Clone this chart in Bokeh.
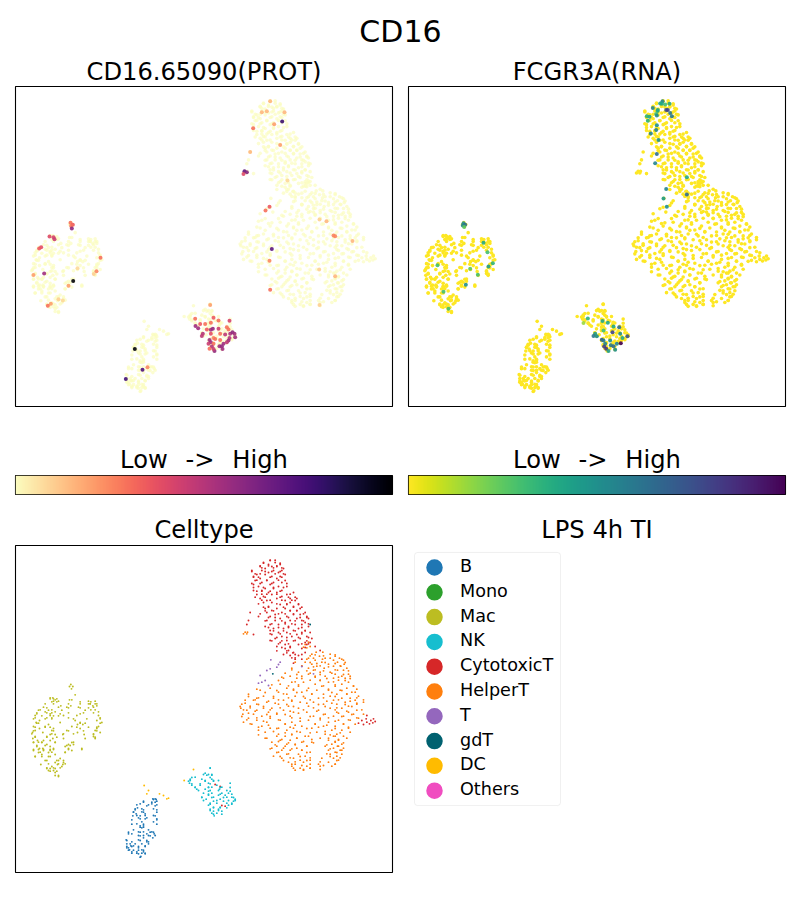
from bokeh.embed import file_html
from bokeh.resources import INLINE
from bokeh.plotting import figure
from bokeh.layouts import column, row
from bokeh.models import ColumnDataSource, LinearColorMapper, Range1d, BoxAnnotation
from bokeh.palettes import Magma256, Viridis256
from bokeh.core.properties import value
from bokeh.transform import transform
import numpy as np

FONT = "DejaVu Sans"
suptitle = "CD16"
titles = ["CD16.65090(PROT)", "FCGR3A(RNA)", "Celltype", "LPS 4h TI"]
bar_title = "Low\u00a0\u00a0\u200a->\u00a0\u00a0\u200aHigh"

celltypes = ["B", "Mono", "Mac", "NK", "CytotoxicT", "HelperT", "T", "gdT", "DC", "Others"]
colors = ["#1f77b4", "#2ca02c", "#bcbd22", "#17becf", "#d62728", "#ff7f0e", "#9467bd", "#006170", "#ffbb00", "#f04dc0"]

# embedding positions, rows of {umap2: [umap1, ...]} (arbitrary embedding units)
helper_rows = {
 335:[948,968],341:[935,990],347:[958,1005],353:[925,975,1018],359:[945,1000,1030],365:[885,915,965,1012],
 371:[935,985,1032],377:[905,950,1000,1022],383:[875,925,972,1040],389:[940,1012,1030],395:[895,960,990],
 401:[925,1005,1045],407:[870,905,945,975,1025,1050],413:[850,890,1000,1035],419:[930,960,1015],
 425:[875,910,985,1045],431:[840,945,1025],437:[895,965,1005,1060],443:[810,860,925,1040],
 449:[780,880,950,985,1020],455:[835,905,1055,1065],461:[745,860,935,970,1010,1040],467:[790,885,990,1075],
 473:[770,820,915,955,1025,1050],479:[735,760,850,875,1000,1065],485:[800,900,940,1035,1090],
 491:[725,770,835,970,1010,1070],497:[750,865,925,1045],503:[722,790,815,895,990,1025],509:[740,770,850,955,1070],
 515:[805,880,920,1010,1045],521:[728,760,830,975,1060,1090],527:[785,870,940,1000,1030],533:[745,810,900,960,1075],
 539:[770,840,925,1015,1050],545:[730,800,875,985],551:[755,855,945,1030,1065],557:[785,905,970,1005],
 563:[810,835,880,935,1045],569:[775,860,995,1025],575:[795,900,950,1050],581:[835,875,975,1010],
 587:[855,925,1000,1030],593:[800,890,960,1040],599:[840,870,985,1015],605:[815,905,935,1005],
 611:[860,885,995,1025],617:[830,920,975,1012],623:[815,850,890,1000,1030],629:[870,905,985,1020],
 635:[835,930,1005],641:[860,895,990,1025],647:[820,915,1010],653:[845,880,965,1000],659:[900,930,1015],
 665:[865,910,985],671:[885,955,1005],677:[875,920,960,995],683:[900,930],689:[885,910],
 275:[735,742],280:[730,740],305:[925],312:[915],318:[930],320:[910],322:[920],
}
helper_rows_b = {
 343:[945,1005],346:[930,970],353:[940,990],356:[920,967,1025],366:[930,975,1035],369:[950,1005],
 376:[905,960,1020],379:[940,985],388:[875,945,1005],391:[920,970,1045],398:[855,930,995],402:[890,960,1030],
 410:[845,945,1015],414:[905,980,1050],420:[835,960,1035],424:[885,1000],433:[815,895,1005],436:[865,970,1060],
 446:[770,880,985,1070],450:[830,920,1025],456:[795,890,995],460:[850,935,1040],468:[745,820,910,1005],
 472:[775,865,970,1070],478:[765,835,930,1015,1090],482:[805,875,980,1050],488:[735,825,920,995,1070],
 492:[775,860,955,1035],498:[720,790,880,975,1055],502:[750,840,940,1010],508:[730,810,910,1005,1085],
 512:[765,870,950,1040],518:[745,830,895,1015],522:[800,855,970,1055],528:[725,810,930,1025],532:[770,875,985,1070],
 538:[740,835,960,1045],542:[790,900,1005],550:[750,855,945,1030],554:[805,885,980],560:[775,870,955,1045],
 564:[830,920,1005],573:[820,890,975],577:[855,930,1020],583:[775,875,990],587:[830,915,1005],593:[795,890,985],
 597:[845,935,1015],603:[835,910,1005],607:[865,940,1030],613:[825,885,980],617:[855,920,1015],625:[810,875,990],
 629:[845,905,1025],636:[830,920,1010],640:[865,980],648:[840,900,990],652:[870,930,1020],660:[850,920,1010],
 664:[885,960],671:[875,930,1005],675:[905,970],683:[880,930],687:[910,960],
}
cytotoxic_rows = {
 60:[810],66:[790,825],72:[805,840],78:[780,815,830],84:[795,850],90:[755,785,820,845],96:[805,835],
 102:[770,795,855],108:[760,815,840],114:[780,830],120:[765,800,855],126:[785,820,845],132:[760,810],
 138:[775,835,860],144:[795,820],150:[760,785,845],156:[805,830,880],162:[770,815,860],168:[790,845],
 174:[780,830,870,890],180:[800,855,885],186:[790,815,870],192:[840,860,895],198:[805,880],204:[795,830,855,900],
 210:[815,870,890],216:[750,800,845,915],222:[825,880,900],228:[775,810,860,920],234:[840,890,925],
 240:[745,800,825,870,905],246:[855,915],252:[740,810,835,885,905],258:[795,865,925],264:[820,850,895],
 270:[810,880,915],276:[835,860,905,930],282:[760,815,890],288:[845,875,920],294:[825,900,935],300:[810,860,885],
 306:[840,915,930],312:[855,895,920],318:[830,870,945],324:[855,905],330:[865,960],336:[880,915],342:[850,885,905],
 352:[875,885],368:[880],
 525:[1100],535:[1098,1120],540:[1085,1112],543:[1125],545:[1100],547:[1118],548:[1075],550:[1108],552:[1090],
 732:[645],738:[660],795:[665],797:[675],
}
cytotoxic_rows_b = {
 59:[810,825],68:[790,840],76:[780,805,830],82:[785,820,845],93:[755,795,815,840],100:[765,780,825,850],
 110:[760,775,810,845],119:[770,800,835],129:[755,780,815,860],141:[760,790,820,850],152:[770,785,810,840],
 161:[785,800,830,870],170:[765,795,840,865,885],179:[785,810,845,875],190:[775,830,860,895],200:[790,805,850,880,905],
 211:[795,820,870,890],220:[780,835,855,880,910],231:[805,825,865,900,920],241:[795,845,885,910],250:[815,855,875,925],
 261:[805,835,865,905],271:[820,850,885,915],280:[810,840,870,905],291:[830,860,895,925],301:[815,845,880,920],
 310:[835,865,905,925],321:[845,870,915],331:[830,860],337:[860,878],345:[870,895],356:[885,905],
}
t_rows = {358:[812],365:[840],372:[835],378:[905],380:[830],385:[810],390:[800],400:[940],405:[780],420:[795],425:[785],428:[775],435:[805]}
gdt_rows = {400:[818],252:[930]}
mac_rows = {
 432:[212],438:[208,218],445:[214],463:[225],472:[150,158],478:[165,208,215],484:[155,170,240,272],490:[160,265,270,285],
 496:[182,212,278,290],502:[140,205,240,265],508:[120,155,272,285],514:[135,165,295],520:[110,150,180,240],526:[125,160,175],
 532:[105,140,155,205,300],540:[118,225,290],546:[108,180,240,305],552:[145,232,248],558:[100,135,215,295],
 564:[118,160,240,290],570:[105,155,200,285],576:[97,128,232,300],582:[150,165,188,252,280],588:[105,140,280],
 594:[98,158,190,255,285],600:[112,130,150],606:[100,125,165,215],612:[140,205,220],618:[110,150,195],
 624:[118,128,160,205,245],630:[100,130,150,215],636:[115,145,195],642:[125,165],648:[105,150],654:[180],660:[140,175],
 666:[165,190],672:[122,172,188],678:[155,185],684:[140,150,165],690:[145,160],696:[165],708:[175],
}
mac_rows_b = {
 475:[150,160,170],482:[160,175,265,285],490:[135,205,240,270,290],500:[130,175,200,235,280],509:[115,145,185,255],
 517:[110,140,155,205,250,280],525:[105,150,190,230,295],535:[100,135,155,220,260,300],548:[110,115,240,255,300],
 560:[105,135,150,230,265,290],571:[100,160,205,250,290],580:[95,155,190,220,280],590:[105,140,170,285],
 605:[100,115,125,165,220],615:[110,135,200,210],627:[100,115,130,150,160,205,245],635:[120,155,195],648:[105,125,145],
 660:[135,170,190],670:[145,175,195],682:[140,160,180],692:[150,170],705:[165,175],
}
b_rows = {
 775:[458,465],782:[430,470],790:[420,455],796:[440,465],802:[412],808:[405,430,470],814:[400,425],820:[408,435],
 826:[398,420,465],832:[415,440],838:[395,470],844:[425,460],850:[410],856:[420,430],862:[425],868:[400,445],
 874:[415,430,455],880:[385,395,440,462],886:[420,450],892:[430,458],898:[378,415],904:[395,440,445],910:[380,425],
 916:[392,400,435],922:[380,385,415],928:[388,425],934:[395,410,430],940:[415,435],948:[422],
}
b_rows_b = {
 777:[460,468],785:[430,455,465],793:[410,445,470],805:[405,425,460],815:[400,430,470],825:[410,435,460],835:[420,435,470],
 851:[395,430,470],860:[420,430],875:[385,420,450,460],885:[415,430,445,465],900:[380,420,440],910:[390,405,445],
 918:[380,395,415,435],929:[385,400,415,430],938:[395,410,425,435],950:[420],
}
dc_rows = {735:[432],750:[445],760:[440,478],765:[490],773:[505],775:[500],720:[552],687:[580]}
nk_rows = {
 682:[630],698:[615],704:[620,635],710:[585],716:[570,605,635],722:[565,615,640],728:[568,625,690],734:[575,600,650],
 740:[585,625,635,665],746:[590,615,658],752:[625,690],758:[610,635,665,685],764:[625,655,675],770:[605,640,680,695],
 776:[618,660,705],782:[640,670,700],788:[630,650,680,695],794:[625,685],800:[640,660],806:[630,655],812:[640,665],
 818:[635,650],826:[642],
}
nk_rows_b = {
 683:[630],702:[610,625,635],711:[575,630],720:[570,615,640,655],730:[575,600,630],741:[585,625,660,690],750:[595,630,655,680],
 761:[625,660,695],771:[605,635,670,700],780:[610,650,685,705],791:[630,695],802:[640,660,680],810:[630,655],821:[640,665],
}
cluster_rows = [("HelperT", helper_rows), ("HelperT", helper_rows_b), ("CytotoxicT", cytotoxic_rows),
                ("CytotoxicT", cytotoxic_rows_b), ("T", t_rows), ("gdT", gdt_rows), ("Mac", mac_rows), ("Mac", mac_rows_b),
                ("B", b_rows), ("B", b_rows_b), ("DC", dc_rows), ("NK", nk_rows), ("NK", nk_rows_b)]

# cells with raised signal: umap1, umap2, level (0-1)
prot_high = [
 (630,685,.2),(585,727,.3),(600,743,.35),(586,749,.55),(594,756,.55),(615,743,.3),(632,739,.3),(655,732,.3),(688,733,.42),(640,724,.35),
 (620,760,.35),(632,761,.55),(638,758,.58),(655,758,.45),(680,753,.3),(685,760,.3),(608,773,.5),(605,780,.48),(632,773,.38),(660,773,.3),
 (675,775,.48),(690,773,.52),(697,768,.6),(703,773,.55),(640,786,.25),(628,792,.55),(632,799,.55),(645,789,.3),(660,792,.3),(688,786,.5),
 (705,784,.55),(685,794,.55),(625,804,.45),(640,804,.3),(658,811,.55),(670,804,.55),(665,811,.58),(635,812,.5),(628,819,.3),(643,826,.58),
 (667,820,.55),(640,820,.45),(680,799,.48),
 (810,60,.15),(785,94,.15),(800,91,.15),(853,94,.15),(846,122,.8),(822,131,.2),(759,143,.3),(840,194,.2),(750,216,.15),(733,275,.7),
 (740,278,.62),(730,283,.4),(862,303,.08),(808,384,.35),(796,395,.3),(958,423,.1),(979,428,.15),(1000,472,.25),(1005,474,.25),
 (1057,489,.15),(815,513,.72),(808,549,.25),(1005,597,.15),(957,576,.1),(810,638,.3),(958,685,.1),
 (211,433,.3),(218,439,.35),(213,443,.3),(215,450,.6),(148,475,.4),(160,477,.42),(163,483,.45),(123,508,.38),(117,512,.35),(301,540,.3),
 (232,572,.08),(289,581,.25),(281,590,.1),(100,593,.2),(132,588,.55),(219,611,.98),(205,626,.2),(152,681,.2),(143,687,.3),(175,667,.1),(188,671,.08),
 (404,820,.98),(427,883,.75),(442,876,.25),(377,912,.78),
]
rna_high = [
 (808,60,.55),(801,67,.4),(816,70,.3),(829,68,.4),(779,81,.55),(793,90,.35),(806,68,.4),(819,87,.75),(824,87,.8),(831,96,.6),(836,106,.6),
 (789,99,.3),(794,87,.4),(791,104,.5),(761,106,.35),(769,108,.4),(764,120,.35),(791,134,.5),(789,148,.55),(773,159,.55),(796,179,.5),
 (791,222,.65),(786,250,.55),(881,293,.4),(819,329,.55),(881,346,.65),(811,358,.45),(821,384,.5),
 (211,434,.5),(216,439,.65),(209,441,.55),(213,446,.25),(271,494,.4),(283,523,.3),(299,557,.35),(286,567,.45),(231,574,.25),(254,592,.3),
 (133,563,.3),(218,623,.5),(151,644,.3),(166,696,.3),
 (584,726,.35),(571,740,.15),(628,734,.4),(644,739,.4),(661,751,.4),(678,753,.65),(631,763,.3),(658,768,.8),(606,773,.45),(601,780,.6),
 (611,781,.5),(681,773,.5),(703,781,.75),(688,786,.4),(626,791,.7),(631,794,.6),(636,804,.55),(653,808,.6),(661,811,.65),(671,804,.55),
 (683,802,1.0),(633,812,.8),(639,819,.85),(646,826,.45),(666,822,.5),(651,794,.5),
]

X_RANGE = (46, 1177)
Y_RANGE = (996, 15)

prot_palette = list(Magma256[::-1])
rna_palette = list(Viridis256[::-1])

us, vs, cats = [], [], []
for name, rows in cluster_rows:
    for v, line in rows.items():
        for u in line:
            us.append(u); vs.append(v); cats.append(name)
col_of = dict(zip(celltypes, colors))
base_colors = [col_of[c] for c in cats]


def panel(title, w, h, left, right, top, bottom, standoff=2, outline=True):
    p = figure(width=w, height=h, min_border_left=left, min_border_right=right, min_border_top=top,
               min_border_bottom=bottom, x_axis_location=None, y_axis_location=None, tools="",
               toolbar_location=None, output_backend="svg",
               x_range=Range1d(*X_RANGE), y_range=Range1d(*Y_RANGE))
    p.grid.visible = False
    p.background_fill_color = "white"
    p.border_fill_color = "white"
    p.outline_line_color = "black" if outline else None
    p.outline_line_width = 1.1
    p.outline_line_alpha = 1
    if title:
        p.title.text = title
        p.title.align = "center"
        p.title.text_font = FONT
        p.title.text_font_style = "normal"
        p.title.text_font_size = "24.2px"
        p.title.text_color = "black"
        p.title.standoff = standoff
    return p


def expr_panel(title, palette, high, w, left, right, low_alpha):
    p = panel(title, w, 353, left, right, 32, 1)
    mapper = LinearColorMapper(palette=palette, low=0, high=1)
    p.scatter(us, vs, size=3.6, color=palette[0], line_width=0, alpha=low_alpha)
    src = ColumnDataSource(dict(u=[a[0] for a in high], v=[a[1] for a in high], lv=[a[2] for a in high]))
    p.scatter("u", "v", source=src, size=4, line_width=0, alpha=0.9, color=transform("lv", mapper))
    return p


def bar_panel(palette, w, left, right):
    p = panel(bar_title, w, 88, left, right, 68, 1, standoff=3)
    p.x_range = Range1d(0, 1)
    p.y_range = Range1d(0, 1)
    mapper = LinearColorMapper(palette=palette, low=0, high=1)
    p.image(image=[np.linspace(0, 1, 256).reshape(1, -1)], x=0, y=0, dw=1, dh=1, color_mapper=mapper)
    return p


head = figure(width=792, height=54, min_border=0, x_axis_location=None, y_axis_location=None, tools="",
              toolbar_location=None, output_backend="svg", x_range=Range1d(0, 1), y_range=Range1d(0, 1))
head.grid.visible = False
head.outline_line_color = None
head.text(x=[0.505], y=[0.426], text=[suptitle], text_align="center", text_baseline="middle",
          text_font=value(FONT), text_font_size="30px", text_color="black")

p1 = expr_panel(titles[0], prot_palette, prot_high, 400, 15, 8, 0.7)
p2 = expr_panel(titles[1], rna_palette, rna_high, 392, 8, 7, 1.0)
b1 = bar_panel(prot_palette, 400, 15, 8)
b2 = bar_panel(rna_palette, 392, 8, 7)

p3 = panel(titles[2], 400, 381, 15, 8, 50, 4, standoff=4)
p3.scatter(us, vs, size=1.9, color=base_colors, line_width=0)

p4 = panel(titles[3], 392, 381, 8, 7, 50, 4, standoff=4, outline=False)
# key of the cell types: one row per category, on p4's own scales
p4.x_range = Range1d(0, 377)
p4.y_range = Range1d(12.3, -0.887)
key_rows = list(range(len(celltypes)))
p4.scatter([26] * len(celltypes), key_rows, size=16.5, color=colors, line_width=0)
p4.text([51.5] * len(celltypes), [r - 0.06 for r in key_rows], text=celltypes, text_baseline="middle", text_align="left",
        text_font=value(FONT), text_font_size="17.6px", text_color="black")
p4.add_layout(BoxAnnotation(left=6, right=152, top=-0.605, bottom=9.6, fill_alpha=0, line_color="#cccccc",
                            line_width=1, border_radius=3))

layout = column(head, row(p1, p2, spacing=0), row(b1, b2, spacing=0), row(p3, p4, spacing=0), spacing=0)
open("out.html", "w").write(file_html(layout, INLINE))
